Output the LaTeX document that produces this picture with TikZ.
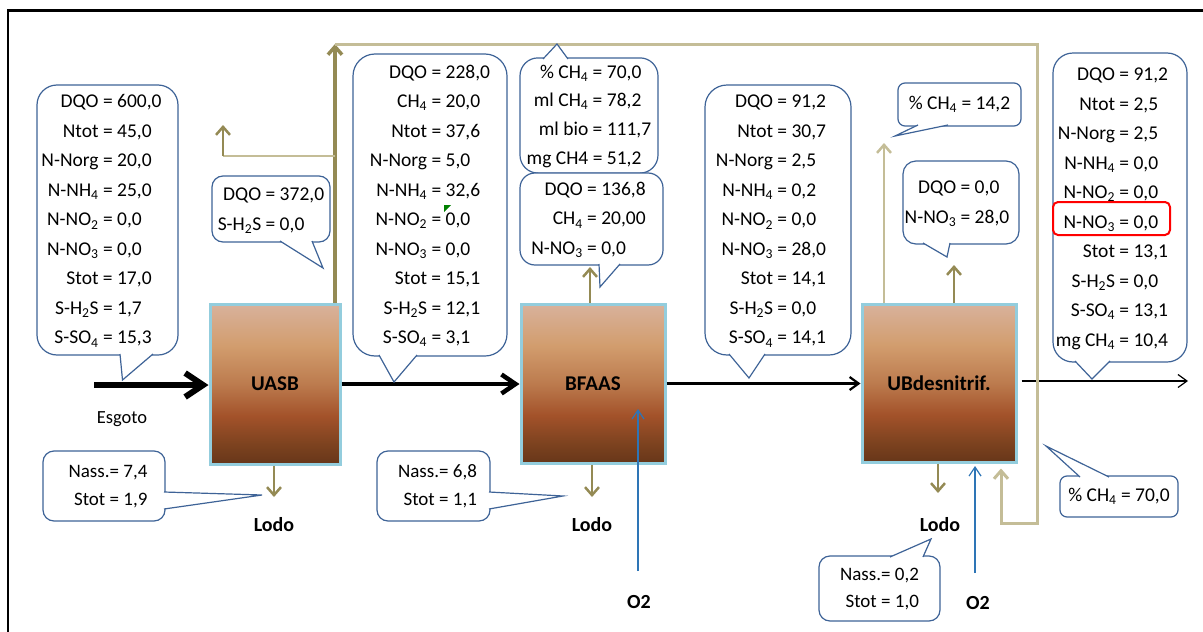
\documentclass[tikz,border=0pt]{standalone}
\usepackage{fontspec}
\setmainfont{Carlito}
\usetikzlibrary{arrows.meta}

\definecolor{callblue}{HTML}{3E6397}
\definecolor{gasolive}{HTML}{948A54}
\definecolor{gastan}{HTML}{C4BD97}
\definecolor{reactorrim}{HTML}{93CDDD}
\definecolor{oxblue}{HTML}{2E75B6}
\definecolor{sludgeA}{HTML}{673619}
\definecolor{sludgeB}{HTML}{7C421F}
\definecolor{sludgeC}{HTML}{A3522A}
\definecolor{sludgeD}{HTML}{BC7B4E}
\definecolor{sludgeE}{HTML}{D29D6E}
\definecolor{sludgeF}{HTML}{D8B29C}
\pgfdeclareverticalshading{reactorfill}{100bp}{color(0bp)=(sludgeA); color(25bp)=(sludgeA); color(31bp)=(sludgeB); color(40bp)=(sludgeC); color(50bp)=(sludgeD); color(62bp)=(sludgeE); color(75bp)=(sludgeF); color(100bp)=(sludgeF)}

\begin{document}
\begin{tikzpicture}[x=1pt, y=-1pt,
callout/.style={draw=callblue, line width=1.2pt, fill=white, inner sep=0pt, align=center, font=\fontsize{19.5}{29.5}\selectfont},
pointer/.style={draw=callblue, line width=1.2pt, fill=white},
reactor/.style={draw=reactorrim, line width=3pt, shade, shading=reactorfill, font=\fontsize{21}{24}\selectfont\bfseries},
tag/.style={font=\fontsize{20}{24}\selectfont\bfseries},
feed/.style={line width=6pt, -{Straight Barb[length=18pt, width=24pt]}},
mainflow/.style={line width=4.5pt, -{Straight Barb[length=14pt, width=19pt]}},
flow/.style={line width=2.2pt, -{Straight Barb[length=9pt, width=13pt]}},
outflow/.style={line width=1.2pt, -{Straight Barb[length=9pt, width=13pt]}},
gasline/.style={gasolive, line width=2.5pt, -{Straight Barb[length=8pt, width=14pt]}},
recirc/.style={gastan, line width=3pt},
oxline/.style={oxblue, line width=1.2pt, -{Straight Barb[length=9pt, width=12pt]}}
]
\useasboundingbox (0,0) rectangle (1203,632);
\draw[line width=2.3pt] (8.3,650) -- (8.3,10.5) -- (1220,10.5);

% reactors
\node[reactor, minimum width=130, minimum height=160] (uasb) at (275,384) {UASB};
\node[reactor, minimum width=144, minimum height=159] (bfaas) at (593,383.5) {BFAAS};
\node[reactor, minimum width=154, minimum height=158] (ubd) at (939,383) {UBdesnitrif.};

% labels
\node[font=\fontsize{18.5}{22}\selectfont] (esgoto) at (122,419) {Esgoto};
\node[tag] (lodoA) at (274,525) {Lodo};
\node[tag] (lodoB) at (592,525) {Lodo};
\node[tag] (lodoC) at (940,525) {Lodo};
\node[tag] (oxA) at (639,602) {O2};
\node[tag] (oxB) at (978,603) {O2};

% coordinates
\coordinate (feedin) at (94,385);
\coordinate (effluent) at (1188,381);
\coordinate (gastop) at (335,44);
\coordinate (recircA) at (1037,44);
\coordinate (recircB) at (1037,523);
\coordinate (recircC) at (1001,523);
\coordinate (branchR) at (335,156);
\coordinate (branchL) at (223,156);
\coordinate (branchtip) at (223,125);
\coordinate (bfgas) at (590,267);
\coordinate (ubgasA) at (884,143);
\coordinate (ubgasB) at (954,265);
\coordinate (sludgeoutA) at (274,497);
\coordinate (sludgeoutB) at (592,497);
\coordinate (sludgeoutC) at (938,493);
\coordinate (oxAbot) at (638,571);
\coordinate (oxAtop) at (638,409);
\coordinate (oxBbot) at (975,573);
\coordinate (oxBtop) at (975,466);

% liquid line
\draw[feed] (feedin) -- (uasb.west |- feedin);
\draw[mainflow] (uasb.east) -- (uasb.east -| bfaas.west);
\draw[flow] (bfaas.east) -- (bfaas.east -| ubd.west);
\draw[outflow, shorten <=4pt] (ubd.east |- effluent) -- (effluent);

% gas and sludge lines
\draw[gasline, line width=3.5pt] (uasb.north -| gastop) -- (gastop);
\draw[recirc, -{Straight Barb[length=8pt, width=14pt]}, shorten >=5pt] (gastop) -- (recircA) -- (recircB) -- (recircC) -- (recircC |- ubd.south);
\draw[gastan, line width=2.5pt] (branchR) -- (branchL);
\draw[gasline] (branchL) -- (branchtip);
\draw[gasline] (bfaas.north -| bfgas) -- (bfgas);
\draw[gasline, gastan] (ubd.north -| ubgasA) -- (ubgasA);
\draw[gasline] (ubd.north -| ubgasB) -- (ubgasB);
\draw[gasline] (uasb.south -| sludgeoutA) -- (sludgeoutA);
\draw[gasline] (bfaas.south -| sludgeoutB) -- (sludgeoutB);
\draw[gasline] (ubd.south -| sludgeoutC) -- (sludgeoutC);
\draw[oxline] (oxAbot) -- (oxAtop);
\draw[oxline] (oxBbot) -- (oxBtop);

% callouts
\node[callout, minimum width=141, minimum height=270, rounded corners=20] (influent) at (107.5,220) {\begin{tabular}{@{}r@{\ =\ }l@{\hspace{12pt}}}
DQO & 600,0\\ Ntot & 45,0\\ N-Norg & 20,0\\ N-NH\textsubscript{4} & 25,0\\ N-NO\textsubscript{2} & 0,0\\
N-NO\textsubscript{3} & 0,0\\ Stot & 17,0\\ S-H\textsubscript{2}S & 1,7\\ S-SO\textsubscript{4} & 15,3\end{tabular}};
\draw[pointer] (120,354) -- (122.5,380) -- (153,354);

\node[callout, minimum width=118, minimum height=66, rounded corners=11, font=\fontsize{19.5}{30}\selectfont] (uasbgas) at (271,209) {\begin{tabular}{@{}r@{\ =\ }l@{}}
DQO & 372,0\\ S-H\textsubscript{2}S & 0,0\end{tabular}};
\draw[pointer] (280,241) -- (323,268) -- (312,241);

\node[callout, minimum width=154, minimum height=302, rounded corners=22] (uasbout) at (430,205) {\begin{tabular}{@{}r@{\ =\ }l@{}}
DQO & 228,0\\ CH\textsubscript{4} & 20,0\\ Ntot & 37,6\\ N-Norg & 5,0\\ N-NH\textsubscript{4} & 32,6\\ N-NO\textsubscript{2} & 0,0\\
N-NO\textsubscript{3} & 0,0\\ Stot & 15,1\\ S-H\textsubscript{2}S & 12,1\\ S-SO\textsubscript{4} & 3,1\end{tabular}};
\draw[pointer] (379,355) -- (394,382) -- (417,355);
\fill[green!50!black] (444,205) -- (451,205) -- (444,212) -- cycle;

\node[callout, minimum width=138, minimum height=115, rounded corners=18, font=\fontsize{19.5}{28.8}\selectfont] (bfgasbox) at (589,115.5) {\begin{tabular}{@{}r@{\ =\ }l@{}}
\% CH\textsubscript{4} & 70,0\\ ml CH\textsubscript{4} & 78,2\\ ml bio & 111,7\\ mg CH4 & 51,2\end{tabular}};
\draw[pointer] (543,59) -- (557,44) -- (568,59);

\node[callout, minimum width=143, minimum height=92, rounded corners=15] (bfliq) at (591.5,219) {\begin{tabular}{@{}r@{\ =\ }l@{\hspace{6pt}}}
DQO & 136,8\\ CH\textsubscript{4} & 20,00\\ N-NO\textsubscript{3} & 0,0\end{tabular}};
\draw[pointer] (599,264) -- (600,287) -- (620,264);

\node[callout, minimum width=146, minimum height=270, rounded corners=22] (bfout) at (778,220) {\begin{tabular}{@{}r@{\ =\ }l@{\hspace{14pt}}}
DQO & 91,2\\ Ntot & 30,7\\ N-Norg & 2,5\\ N-NH\textsubscript{4} & 0,2\\ N-NO\textsubscript{2} & 0,0\\
N-NO\textsubscript{3} & 28,0\\ Stot & 14,1\\ S-H\textsubscript{2}S & 0,0\\ S-SO\textsubscript{4} & 14,1\end{tabular}};
\draw[pointer] (729,354) -- (749,378) -- (765,354);

\node[callout, minimum width=123, minimum height=43, rounded corners=7] (ubch4) at (959.5,104.5) {\% CH\textsubscript{4} = 14,2};
\draw[pointer] (918,125) -- (895,136) -- (948,125);

\node[callout, minimum width=116, minimum height=83, rounded corners=13, font=\fontsize{19.5}{30}\selectfont] (ubgas) at (961,202.5) {\begin{tabular}{@{}r@{\ =\ }l@{\hspace{8pt}}}
DQO & 0,0\\ N-NO\textsubscript{3} & 28,0\end{tabular}};
\draw[pointer] (923,243) -- (947,257) -- (950,243);

\node[callout, minimum width=134, minimum height=309, rounded corners=20] (ubout) at (1120,207.5) {\begin{tabular}{@{}r@{\ =\ }l@{\hspace{16pt}}}
DQO & 91,2\\ Ntot & 2,5\\ N-Norg & 2,5\\ N-NH\textsubscript{4} & 0,0\\ N-NO\textsubscript{2} & 0,0\\
N-NO\textsubscript{3} & 0,0\\ Stot & 13,1\\ S-H\textsubscript{2}S & 0,0\\ S-SO\textsubscript{4} & 13,1\\ mg CH\textsubscript{4} & 10,4\end{tabular}};
\draw[pointer] (1075,361) -- (1092,379) -- (1110,361);
\draw[red, line width=2pt, rounded corners=5pt] (1053,202) rectangle (1170,235);

\node[callout, minimum width=118, minimum height=41, rounded corners=7] (recircch4) at (1119,496.5) {\% CH\textsubscript{4} = 70,0};
\draw[pointer] (1080,477) -- (1046,446) -- (1109,477);

\node[callout, minimum width=122, minimum height=70, rounded corners=11, font=\fontsize{19}{27.5}\selectfont] (nassA) at (104,486) {\begin{tabular}{@{\hspace{8pt}}r@{\ }l@{}}
Nass.= & 7,4\\ Stot = & 1,9\end{tabular}};
\draw[pointer] (164,492) -- (262,495) -- (164,509);

\node[callout, minimum width=113, minimum height=70, rounded corners=11, font=\fontsize{19}{27.5}\selectfont] (nassB) at (433.5,486) {\begin{tabular}{@{\hspace{8pt}}r@{\ }l@{}}
Nass.= & 6,8\\ Stot = & 1,1\end{tabular}};
\draw[pointer] (489,492) -- (563,496) -- (489,509);

\node[callout, minimum width=121, minimum height=65, rounded corners=11, font=\fontsize{19}{27.5}\selectfont] (nassC) at (879.5,588.5) {\begin{tabular}{@{}r@{\ }l@{}}
Nass.= & 0,2\\ Stot = & 1,0\end{tabular}};
\draw[pointer] (890,557) -- (931,539) -- (923,557);
\end{tikzpicture}
\end{document}
